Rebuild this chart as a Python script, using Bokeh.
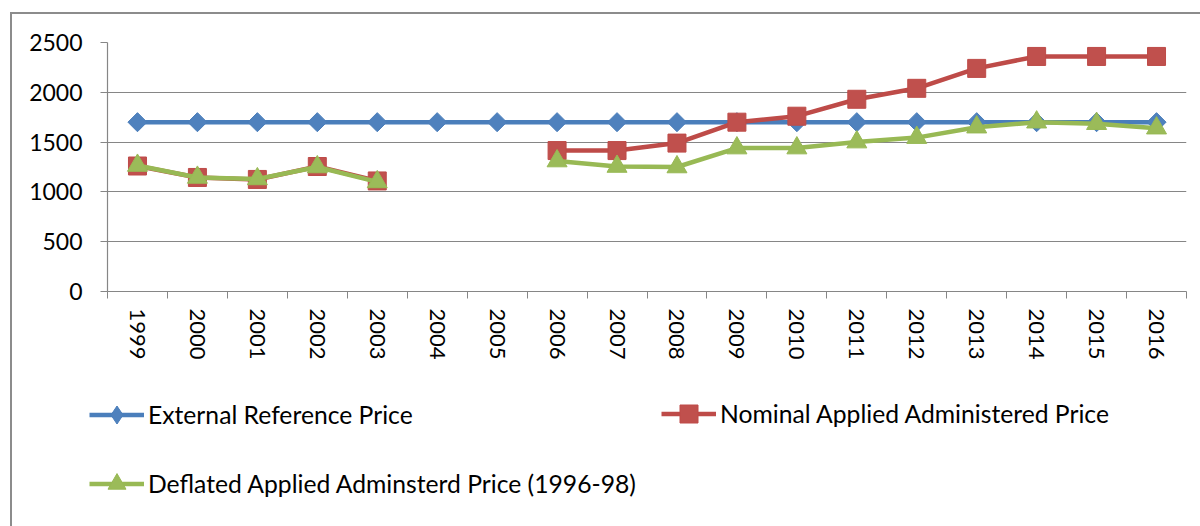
import numpy as np
from math import pi
from bokeh.plotting import figure
from bokeh.layouts import column
from bokeh.models import ColumnDataSource, Range1d, FixedTicker, Legend, LegendItem
from bokeh.embed import file_html
from bokeh.resources import INLINE

# ---- data ----
years = ["1999", "2000", "2001", "2002", "2003", "2004", "2005", "2006", "2007",
         "2008", "2009", "2010", "2011", "2012", "2013", "2014", "2015", "2016"]
external_price = [1700, 1700, 1700, 1700, 1700, 1700, 1700, 1700, 1700,
                  1700, 1700, 1700, 1700, 1700, 1700, 1700, 1700, 1700]
nominal_price = [1260, 1145, 1125, 1255, 1110, None, None, 1415, 1415,
                 1490, 1700, 1760, 1930, 2040, 2240, 2360, 2360, 2360]
deflated_price = [1265, 1145, 1130, 1250, 1100, None, None, 1310, 1255,
                  1250, 1440, 1440, 1500, 1545, 1650, 1700, 1685, 1640]
y_ticks = [0, 500, 1000, 1500, 2000, 2500]
series_names = ["External Reference Price",
                "Nominal Applied Administered Price",
                "Deflated Applied Adminsterd Price (1996-98)"]

BLUE_L, BLUE_M = "#4A7EBB", "#4F81BD"
RED_L, RED_M = "#BE4B48", "#C0504D"
GREEN_L, GREEN_M = "#98B954", "#9BBB59"
GRID = "#868686"
FONT = "Lato"
LW = 4.5

idx = list(range(len(years)))
src = ColumnDataSource(dict(
    x=idx,
    ext=np.array(external_price, dtype=float),
    nom=np.array(nominal_price, dtype=float),
    dfl=np.array(deflated_price, dtype=float),
))

# ---------------- chart ----------------
p = figure(width=1188, height=370, output_backend="svg", toolbar_location=None,
           x_range=Range1d(-0.5, len(years) - 0.5), y_range=Range1d(y_ticks[0], y_ticks[-1]),
           min_border_left=95, min_border_right=14, min_border_top=28, min_border_bottom=93)
p.frame_align = False
p.outline_line_color = None
p.background_fill_color = "white"
p.border_fill_color = "white"

p.xgrid.visible = False
p.ygrid.ticker = FixedTicker(ticks=y_ticks)
p.ygrid.grid_line_color = GRID
p.ygrid.grid_line_width = 1.2

p.yaxis.ticker = FixedTicker(ticks=y_ticks)
p.yaxis.axis_line_color = GRID
p.yaxis.axis_line_width = 1.2
p.yaxis.major_tick_line_color = GRID
p.yaxis.major_tick_out = 7
p.yaxis.major_tick_in = 0
p.yaxis.minor_tick_line_color = None
p.yaxis.major_label_text_font = FONT
p.yaxis.major_label_text_font_size = "23px"
p.yaxis.major_label_text_color = "black"
p.yaxis.major_label_standoff = 18

boundaries = [i - 0.5 for i in range(len(years) + 1)]
p.xaxis.ticker = FixedTicker(ticks=idx, minor_ticks=boundaries)
p.xaxis.major_label_overrides = {i: y for i, y in zip(idx, years)}
p.xaxis.major_label_orientation = -pi / 2
p.xaxis.axis_line_color = GRID
p.xaxis.axis_line_width = 1.2
p.xaxis.major_tick_line_color = None
p.xaxis.minor_tick_line_color = GRID
p.xaxis.minor_tick_out = 7
p.xaxis.minor_tick_in = 0
p.xaxis.major_label_text_font = FONT
p.xaxis.major_label_text_font_size = "22px"
p.xaxis.major_label_text_color = "black"
p.xaxis.major_label_standoff = 10

p.line("x", "ext", source=src, line_color=BLUE_L, line_width=LW)
p.scatter("x", "ext", source=src, marker="square", angle=pi / 4, size=13.5,
          fill_color=BLUE_M, line_color=BLUE_L)
p.line("x", "nom", source=src, line_color=RED_L, line_width=LW)
p.scatter("x", "nom", source=src, marker="square", size=18,
          fill_color=RED_M, line_color=RED_L)
p.line("x", "dfl", source=src, line_color=GREEN_L, line_width=LW)
p.scatter("x", "dfl", source=src, marker="triangle", size=20,
          fill_color=GREEN_M, line_color=GREEN_L)

# ---------------- legend strip ----------------
q = figure(width=1188, height=142, output_backend="svg", toolbar_location=None,
           x_range=Range1d(0, 1), y_range=Range1d(0, 1),
           x_axis_type=None, y_axis_type=None,
           min_border_left=0, min_border_right=0, min_border_top=0, min_border_bottom=0)
q.frame_align = False
q.outline_line_color = None
q.background_fill_color = "white"
q.border_fill_color = "white"

def swatch(col, lc, mc, marker):
    ln = q.line("x", col, source=src, line_color=lc, line_width=LW, visible=False)
    mk = q.scatter("x", col, source=src, marker=marker, fill_color=mc, line_color=lc, visible=False)
    return [ln, mk]

r_ext = swatch("ext", BLUE_L, BLUE_M, "diamond")
r_nom = swatch("nom", RED_L, RED_M, "square")
r_dfl = swatch("dfl", GREEN_L, GREEN_M, "triangle")

common = dict(orientation="vertical", glyph_width=55, glyph_height=45, label_height=45,
              label_standoff=4, spacing=24, padding=0, margin=0,
              border_line_color=None, background_fill_alpha=0,
              label_text_font=FONT, label_text_font_size="24.7px", label_text_color="black")
leg1 = Legend(items=[LegendItem(label=series_names[0], renderers=r_ext),
                     LegendItem(label=series_names[2], renderers=r_dfl)],
              location=(77, 20.5), **common)
leg2 = Legend(items=[LegendItem(label=series_names[1], renderers=r_nom)],
              location=(649, 90.5), **common)
q.add_layout(leg1)
q.add_layout(leg2)

layout = column(p, q, spacing=0)
layout.margin = (12, 0, 0, 10)
layout.styles = {"border-top": "2px solid #8C8C8C", "border-left": "2px solid #8C8C8C"}

open("out.html", "w").write(file_html(layout, INLINE))
